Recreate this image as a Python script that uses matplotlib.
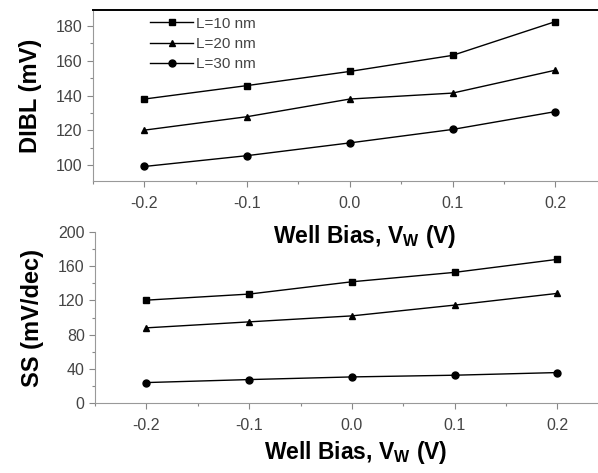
import numpy as np
import matplotlib
matplotlib.use('Agg')
import matplotlib.pyplot as plt
from matplotlib.ticker import AutoMinorLocator, FormatStrFormatter

plt.rcParams['font.family'] = ['Liberation Sans', 'DejaVu Sans']

# well bias (V)
vw = [-0.2, -0.1, 0.0, 0.1, 0.2]
labels = ['L=10 nm', 'L=20 nm', 'L=30 nm']
markers = ['s', '^', 'o']

# DIBL (mV)
dibl_10 = [138, 145.7, 153.8, 163, 182.3]
dibl_20 = [120.2, 127.9, 138, 141.4, 154.5]
dibl_30 = [99.4, 105.6, 112.9, 120.6, 130.8]

# SS (mV/dec)
ss_10 = [120.3, 127.4, 141.8, 152.8, 168]
ss_20 = [87.9, 94.9, 101.9, 114.5, 128.2]
ss_30 = [23.9, 27.4, 30.5, 32.5, 35.6]

fig = plt.figure(figsize=(5.98, 4.73), dpi=100)
ax1 = fig.add_axes([0.1555, 0.617, 0.859, 0.362])
ax2 = fig.add_axes([0.159, 0.148, 0.859, 0.3615])
ax2.patch.set_alpha(0)

tick_col = '#444444'

for ys, lab, m in zip([dibl_10, dibl_20, dibl_30], labels, markers):
    ax1.plot(vw, ys, color='black', lw=1.0, marker=m, ms=5, label=lab)
for ys, lab, m in zip([ss_10, ss_20, ss_30], labels, markers):
    ax2.plot(vw, ys, color='black', lw=1.0, marker=m, ms=5, label=lab)

ax1.set_xlim(-0.25, 0.25)
ax1.set_ylim(91, 189)
ax1.set_yticks([100, 120, 140, 160, 180])
ax2.set_xlim(-0.25, 0.25)
ax2.set_ylim(0, 200)
ax2.set_yticks([0, 40, 80, 120, 160, 200])

for ax in (ax1, ax2):
    ax.set_xticks(vw)
    ax.xaxis.set_major_formatter(FormatStrFormatter('%.1f'))
    ax.xaxis.set_minor_locator(AutoMinorLocator(2))
    ax.yaxis.set_minor_locator(AutoMinorLocator(2))
    ax.tick_params(which='both', direction='out', colors='#888888',
                   labelcolor=tick_col, labelsize=11.5, width=0.8)
    ax.tick_params(which='major', length=4)
    ax.tick_params(which='minor', length=2)
    ax.tick_params(axis='x', pad=7)
    ax.set_xlabel('Well Bias, V$_\\mathregular{W}$ (V)', fontsize=16.5,
                  fontweight='bold')
    for s in ax.spines.values():
        s.set_color('#999999')
        s.set_linewidth(0.8)

ax1.xaxis.set_label_coords(0.528, -0.245)
ax2.xaxis.set_label_coords(0.507, -0.21)

ax1.spines['top'].set_color('black')
ax1.spines['top'].set_linewidth(1.4)
ax2.spines['top'].set_visible(False)
ax2.spines['right'].set_visible(False)

ax1.set_ylabel('DIBL (mV)', fontsize=17, fontweight='bold', labelpad=10)
ax2.set_ylabel('SS (mV/dec)', fontsize=17, fontweight='bold', labelpad=10)

ax1.legend(loc='upper left', bbox_to_anchor=(0.085, 1.04), frameon=False,
           fontsize=11, handlelength=2.8, labelspacing=0.4,
           handletextpad=0.2, labelcolor=tick_col)

fig.savefig('out.png', dpi=100)
